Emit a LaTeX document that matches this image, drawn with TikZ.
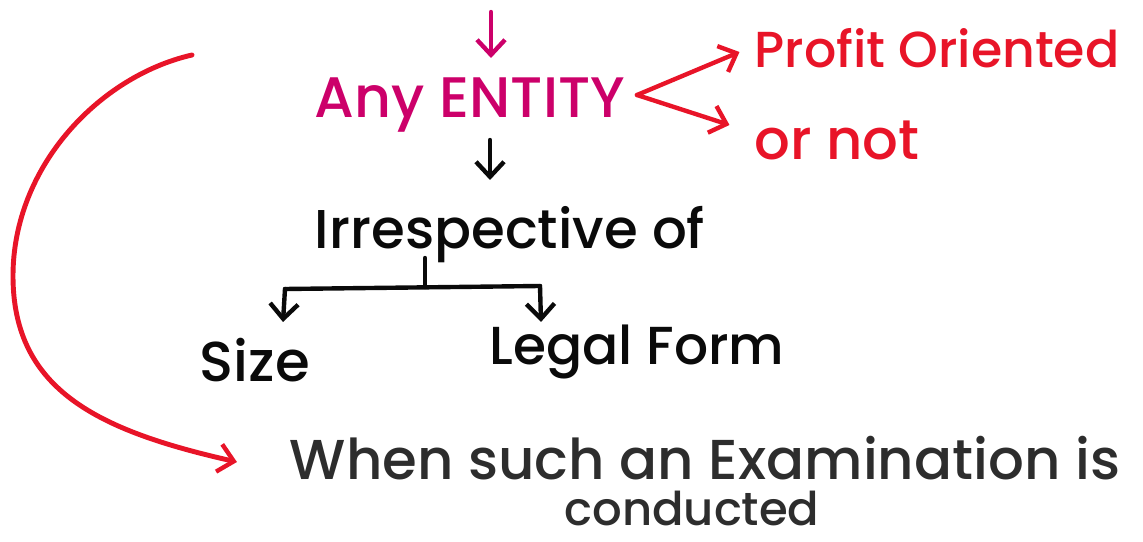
\documentclass[tikz,border=0pt]{standalone}
\usepackage{fontspec}
\setmainfont{Poppins}[UprightFont=* Medium]
\usetikzlibrary{arrows.meta}
\definecolor{inkmagenta}{RGB}{204,0,106}
\definecolor{inkred}{RGB}{232,20,40}
\definecolor{inkblack}{RGB}{10,10,10}
\definecolor{inkgray}{RGB}{45,45,45}
\tikzset{
  word/.style={inner sep=0pt, outer sep=0pt, anchor=center},
  pen/.style={line width=2.5pt, line cap=round, line join=round},
  penarrow/.style={pen, -{Straight Barb[length=3mm,width=5.6mm,line width=2.5pt]}},
}
\newcommand{\fitw}[2]{\resizebox{#1}{!}{#2}}
\begin{document}
\begin{tikzpicture}
\useasboundingbox (0,0) rectangle (22.86,10.82);

% text blocks
\node[word, text=inkmagenta] (entity) at (9.40,8.72) {\fitw{6.2cm}{Any ENTITY}};
\node[word, text=inkred] (profit) at (18.74,9.86) {\fitw{7.3cm}{Profit Oriented}};
\node[word, text=inkred] (ornot) at (16.74,8.02) {\fitw{3.3cm}{or not}};
\node[word, text=inkblack] (irresp) at (10.20,6.12) {\fitw{7.8cm}{Irrespective of}};
\node[word, text=inkblack] (size) at (5.10,3.62) {\fitw{2.2cm}{Size}};
\node[word, text=inkblack] (legal) at (12.74,3.78) {\fitw{5.9cm}{Legal Form}};
\node[word, text=inkgray] (when) at (14.10,1.66) {\fitw{16.6cm}{When such an Examination is}};
\node[word, text=inkgray] (conducted) at (13.84,0.66) {\fitw{5.1cm}{conducted}};

% arrow into the entity from above
\coordinate (topsrc) at (9.82,10.58);
\draw[penarrow, draw=inkmagenta] (topsrc) -- (9.82,9.66);

% fork to profit / not-for-profit
\coordinate (fork) at (12.74,8.92);
\draw[penarrow, draw=inkred] (fork) -- ([xshift=-0.3cm,yshift=-0.08cm]profit.west);
\draw[penarrow, draw=inkred] (fork) -- ([xshift=-0.5cm,yshift=0.3cm]ornot.west);

% entity down to "irrespective of"
\draw[penarrow, draw=inkblack] (9.80,8.02) -- (9.80,7.22);

% branch to size / legal form
\coordinate (stemtop) at (8.50,5.66);
\coordinate (stembot) at (8.50,5.08);
\coordinate (brl) at (5.70,5.04);
\coordinate (brr) at (10.80,5.10);
\draw[pen, draw=inkblack] (stemtop) -- (stembot);
\draw[pen, draw=inkblack] (brl) -- (brr);
\draw[penarrow, draw=inkblack] (brl) -- (5.66,4.38);
\draw[penarrow, draw=inkblack] (brr) -- (10.82,4.38);

% long return arrow on the left
\coordinate (loopstart) at (3.84,9.72);
\draw[penarrow, draw=inkred, line width=2.8pt]
  (loopstart) .. controls (2.0,9.3) and (0.26,7.5) .. (0.26,5.3)
  .. controls (0.26,3.0) and (2.0,2.2) .. ([xshift=-1.06cm,yshift=-0.08cm]when.west);
\end{tikzpicture}
\end{document}
